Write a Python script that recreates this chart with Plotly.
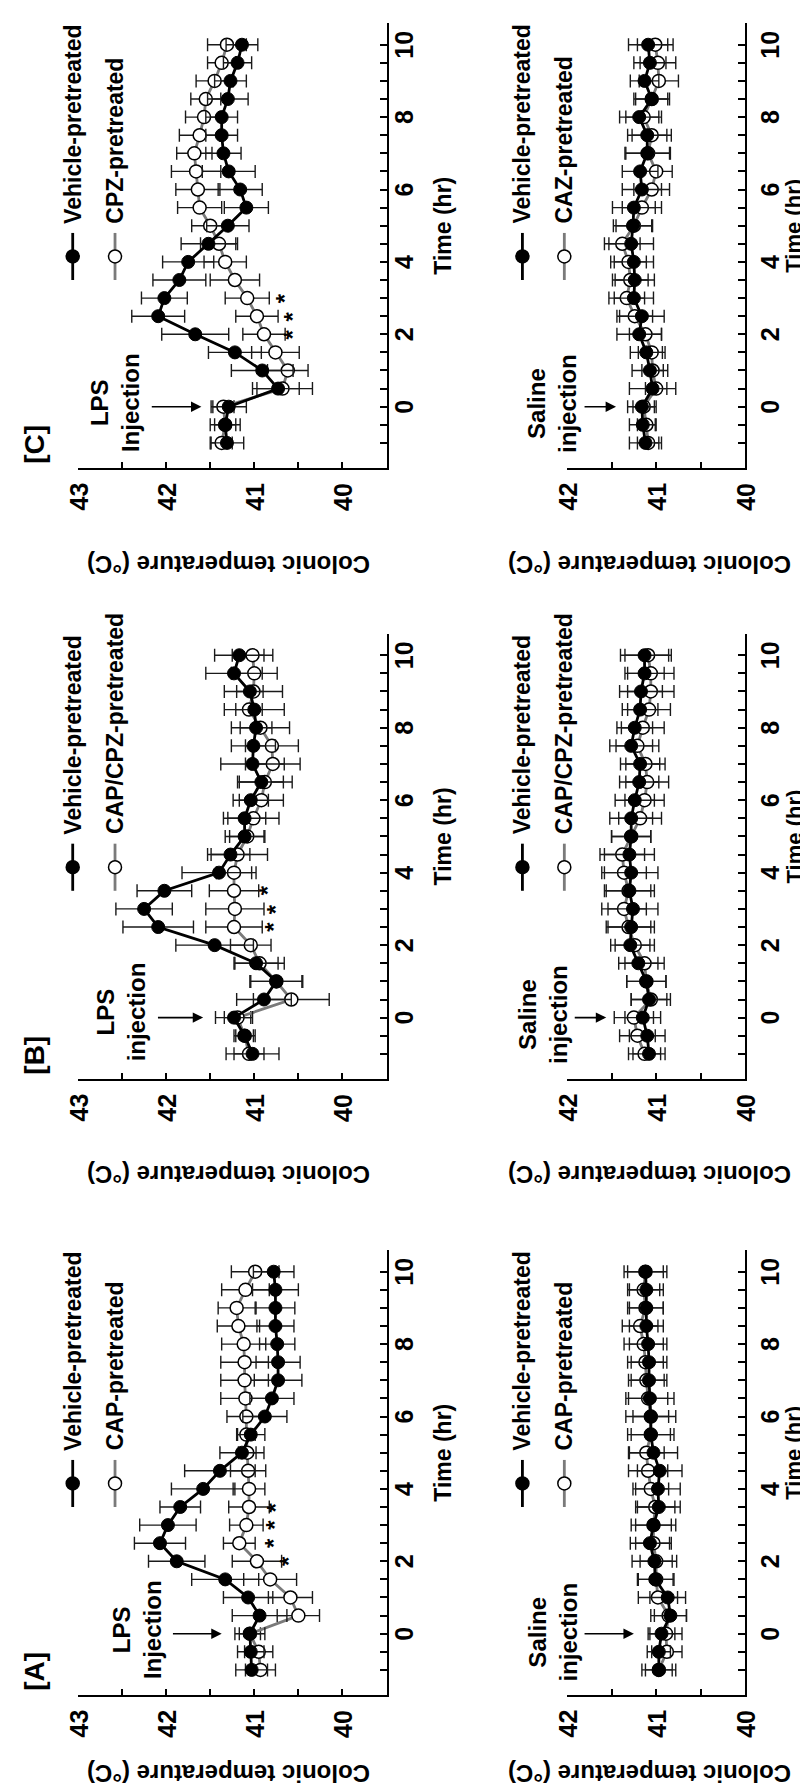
import plotly.graph_objects as go

W, H = 808, 1788

# ---------------- data ----------------
TIME_HR = [-1, -0.5, 0, 0.5, 1, 1.5, 2, 2.5, 3, 3.5, 4, 4.5, 5, 5.5, 6, 6.5, 7, 7.5, 8, 8.5, 9, 9.5, 10]

# Panel A
A_LPS_VEH = [41.03, 41.04, 41.05, 40.94, 41.07, 41.33, 41.88, 42.07, 41.98, 41.84, 41.58, 41.39, 41.14, 41.04, 40.88, 40.80, 40.73, 40.73, 40.74, 40.76, 40.76, 40.76, 40.78]
A_LPS_VEH_SEM = [0.18, 0.15, 0.17, 0.31, 0.28, 0.38, 0.32, 0.29, 0.32, 0.23, 0.36, 0.40, 0.25, 0.16, 0.25, 0.25, 0.27, 0.25, 0.20, 0.21, 0.22, 0.26, 0.23]
A_LPS_CAP = [40.93, 40.95, 41.05, 40.50, 40.59, 40.82, 40.97, 41.17, 41.09, 41.06, 41.06, 41.07, 41.08, 41.09, 41.09, 41.10, 41.11, 41.11, 41.12, 41.18, 41.20, 41.10, 40.99]
A_LPS_CAP_SEM = [0.17, 0.16, 0.12, 0.24, 0.25, 0.30, 0.28, 0.18, 0.19, 0.23, 0.18, 0.20, 0.10, 0.10, 0.22, 0.28, 0.27, 0.27, 0.25, 0.24, 0.21, 0.27, 0.27]
A_SAL_VEH = [40.97, 40.97, 40.94, 40.84, 40.87, 41.01, 41.02, 41.07, 41.03, 40.97, 40.98, 40.96, 41.03, 41.06, 41.06, 41.07, 41.08, 41.08, 41.09, 41.11, 41.11, 41.11, 41.12]
A_SAL_VEH_SEM = [0.19, 0.13, 0.15, 0.18, 0.20, 0.20, 0.25, 0.22, 0.25, 0.24, 0.25, 0.25, 0.27, 0.26, 0.28, 0.27, 0.20, 0.20, 0.21, 0.19, 0.19, 0.19, 0.24]
A_SAL_CAP = [40.97, 40.88, 40.89, 40.86, 40.98, 41.00, 41.00, 41.03, 41.03, 41.01, 41.06, 41.09, 41.11, 41.06, 41.06, 41.09, 41.11, 41.12, 41.14, 41.18, 41.12, 41.14, 41.12]
A_SAL_CAP_SEM = [0.15, 0.17, 0.18, 0.20, 0.22, 0.20, 0.18, 0.20, 0.20, 0.22, 0.20, 0.22, 0.20, 0.22, 0.20, 0.22, 0.20, 0.20, 0.22, 0.20, 0.20, 0.18, 0.20]

# Panel B
B_LPS_VEH = [41.02, 41.11, 41.23, 40.89, 40.75, 40.98, 41.45, 42.09, 42.25, 42.02, 41.40, 41.27, 41.11, 41.11, 41.04, 40.92, 41.02, 41.01, 40.98, 41.00, 41.05, 41.23, 41.17]
B_LPS_VEH_SEM = [0.30, 0.10, 0.21, 0.31, 0.29, 0.25, 0.44, 0.40, 0.32, 0.31, 0.42, 0.22, 0.22, 0.24, 0.20, 0.25, 0.36, 0.25, 0.18, 0.34, 0.15, 0.32, 0.28]
B_LPS_CAP = [41.06, 41.11, 41.19, 40.58, 40.75, 40.94, 41.04, 41.23, 41.22, 41.23, 41.23, 41.19, 41.08, 41.01, 40.92, 40.88, 40.79, 40.80, 40.93, 41.06, 41.01, 41.00, 41.02]
B_LPS_CAP_SEM = [0.17, 0.12, 0.15, 0.43, 0.30, 0.28, 0.23, 0.32, 0.33, 0.28, 0.20, 0.34, 0.20, 0.29, 0.25, 0.31, 0.31, 0.30, 0.33, 0.15, 0.33, 0.26, 0.23]
B_SAL_VEH = [41.08, 41.10, 41.15, 41.08, 41.11, 41.20, 41.29, 41.28, 41.26, 41.30, 41.28, 41.30, 41.28, 41.28, 41.24, 41.19, 41.18, 41.28, 41.24, 41.18, 41.17, 41.13, 41.13]
B_SAL_VEH_SEM = [0.18, 0.20, 0.20, 0.20, 0.22, 0.22, 0.22, 0.26, 0.28, 0.28, 0.30, 0.28, 0.22, 0.24, 0.22, 0.22, 0.22, 0.24, 0.20, 0.20, 0.24, 0.22, 0.27]
B_SAL_CAP = [41.13, 41.21, 41.25, 41.06, 41.11, 41.13, 41.24, 41.31, 41.36, 41.31, 41.36, 41.38, 41.28, 41.18, 41.13, 41.10, 41.12, 41.21, 41.15, 41.08, 41.06, 41.06, 41.09]
B_SAL_CAP_SEM = [0.18, 0.20, 0.22, 0.22, 0.22, 0.22, 0.22, 0.25, 0.25, 0.25, 0.25, 0.25, 0.22, 0.24, 0.22, 0.24, 0.22, 0.24, 0.24, 0.24, 0.26, 0.26, 0.26]

# Panel C
C_LPS_VEH = [41.31, 41.33, 41.29, 40.73, 40.91, 41.22, 41.67, 42.09, 42.02, 41.85, 41.75, 41.52, 41.30, 41.09, 41.16, 41.29, 41.35, 41.37, 41.37, 41.30, 41.27, 41.19, 41.14]
C_LPS_VEH_SEM = [0.19, 0.17, 0.20, 0.24, 0.35, 0.30, 0.38, 0.30, 0.26, 0.30, 0.29, 0.31, 0.24, 0.25, 0.25, 0.30, 0.20, 0.18, 0.18, 0.23, 0.18, 0.16, 0.18]
C_LPS_CAP = [41.37, 41.33, 41.35, 40.68, 40.62, 40.76, 40.89, 40.97, 41.08, 41.22, 41.33, 41.40, 41.50, 41.62, 41.64, 41.66, 41.68, 41.62, 41.57, 41.55, 41.45, 41.37, 41.31]
C_LPS_CAP_SEM = [0.12, 0.12, 0.12, 0.34, 0.23, 0.27, 0.24, 0.24, 0.25, 0.28, 0.24, 0.21, 0.21, 0.25, 0.25, 0.28, 0.20, 0.23, 0.21, 0.17, 0.21, 0.16, 0.22]
C_SAL_VEH = [41.12, 41.15, 41.16, 41.04, 41.07, 41.11, 41.19, 41.16, 41.25, 41.24, 41.25, 41.28, 41.26, 41.25, 41.16, 41.18, 41.10, 41.10, 41.19, 41.05, 41.13, 41.07, 41.09]
C_SAL_VEH_SEM = [0.18, 0.15, 0.16, 0.26, 0.20, 0.18, 0.25, 0.25, 0.22, 0.22, 0.22, 0.25, 0.22, 0.24, 0.22, 0.20, 0.25, 0.22, 0.22, 0.20, 0.16, 0.18, 0.22]
C_SAL_CAP = [41.09, 41.11, 41.14, 41.00, 41.04, 41.05, 41.12, 41.24, 41.33, 41.29, 41.31, 41.38, 41.25, 41.16, 41.05, 41.00, 41.09, 41.05, 41.14, 41.05, 40.97, 40.98, 41.01]
C_SAL_CAP_SEM = [0.12, 0.10, 0.12, 0.12, 0.12, 0.15, 0.18, 0.20, 0.20, 0.20, 0.20, 0.20, 0.20, 0.22, 0.20, 0.18, 0.25, 0.22, 0.20, 0.18, 0.22, 0.20, 0.20]

# significance markers (time, temperature where the asterisk sits)
A_STAR_T = [2, 2.5, 3, 3.5]
A_STAR_X = [40.61, 40.78, 40.78, 40.76]
B_STAR_T = [2.5, 3, 3.5]
B_STAR_X = [40.79, 40.75, 40.85]
C_STAR_T = [2, 2.5, 3]
C_STAR_X = [40.57, 40.57, 40.66]

TEMP_TICKS_LPS = [43, 42.5, 42, 41.5, 41, 40.5, 40]
TEMP_LABELS_LPS = [43, 42, 41, 40]
TEMP_TICKS_SAL = [42, 41.5, 41, 40.5, 40]
TEMP_LABELS_SAL = [42, 41, 40]
TIME_TICKS = [-1, -0.5, 0, 0.5, 1, 1.5, 2, 2.5, 3, 3.5, 4, 4.5, 5, 5.5, 6, 6.5, 7, 7.5, 8, 8.5, 9, 9.5, 10]
TIME_LABELS = [0, 2, 4, 6, 8, 10]

# ---------------- geometry ----------------
FONT = "Liberation Sans, Arial, Helvetica, sans-serif"
BLACK = "#000000"
GRAY = "#7a7a7a"

GEOM = {
    "lps": dict(xpx=(70, 378.5), trange=(43, 39.5), ticks=TEMP_TICKS_LPS, labels=TEMP_LABELS_LPS,
                title_x=221, time_title_x=435, time_label_x=396, time_title_size=23,
                leg_T=(43.06, 42.58)),
    "sal": dict(xpx=(559, 737.3), trange=(42, 40), ticks=TEMP_TICKS_SAL, labels=TEMP_LABELS_SAL,
                title_x=642, time_title_x=786, time_label_x=762, time_title_size=22,
                leg_T=(42.50, 42.03)),
}
T_RANGE = (-1.68, 10.6)
PANEL_Y = {"C": (15, 459.5), "B": (625.5, 1070.5), "A": (1242, 1686.5)}
TITLE_Y = {"C": 557, "B": 1167, "A": 1766}
TEMP_LABEL_DY = 29

PANELS = [
    dict(name="A", kind="lps", veh=A_LPS_VEH, veh_sem=A_LPS_VEH_SEM, trt=A_LPS_CAP, trt_sem=A_LPS_CAP_SEM,
         trt_name="CAP-pretreated", inj="LPS<br>Injection", inj_T=42.33, inj_t=0.1, arrow=(41.94, 41.37),
         stars=(A_STAR_T, A_STAR_X)),
    dict(name="A", kind="sal", veh=A_SAL_VEH, veh_sem=A_SAL_VEH_SEM, trt=A_SAL_CAP, trt_sem=A_SAL_CAP_SEM,
         trt_name="CAP-pretreated", inj="Saline<br>injection", inj_T=42.16, inj_t=0.05, arrow=(41.82, 41.25),
         stars=None),
    dict(name="B", kind="lps", veh=B_LPS_VEH, veh_sem=B_LPS_VEH_SEM, trt=B_LPS_CAP, trt_sem=B_LPS_CAP_SEM,
         trt_name="CAP/CPZ-pretreated", inj="LPS<br>injection", inj_T=42.51, inj_t=0.15, arrow=(42.11, 41.58),
         stars=(B_STAR_T, B_STAR_X)),
    dict(name="B", kind="sal", veh=B_SAL_VEH, veh_sem=B_SAL_VEH_SEM, trt=B_SAL_CAP, trt_sem=B_SAL_CAP_SEM,
         trt_name="CAP/CPZ-pretreated", inj="Saline<br>injection", inj_T=42.27, inj_t=0.1, arrow=(41.93, 41.56),
         stars=None),
    dict(name="C", kind="lps", veh=C_LPS_VEH, veh_sem=C_LPS_VEH_SEM, trt=C_LPS_CAP, trt_sem=C_LPS_CAP_SEM,
         trt_name="CPZ-pretreated", inj="LPS<br>Injection", inj_T=42.58, inj_t=0.1, arrow=(42.18, 41.60),
         stars=(C_STAR_T, C_STAR_X)),
    dict(name="C", kind="sal", veh=C_SAL_VEH, veh_sem=C_SAL_VEH_SEM, trt=C_SAL_CAP, trt_sem=C_SAL_CAP_SEM,
         trt_name="CAZ-pretreated", inj="Saline<br>injection", inj_T=42.17, inj_t=0.1, arrow=(41.82, 41.45),
         stars=None),
]


def to_paper(T, t, g, panel):
    x0, x1 = g["xpx"]
    Ta, Tb = g["trange"]
    px = x0 + (Ta - T) / (Ta - Tb) * (x1 - x0)
    ytop, ybot = PANEL_Y[panel]
    py = ybot - (t - T_RANGE[0]) / (T_RANGE[1] - T_RANGE[0]) * (ybot - ytop)
    return px / W, 1 - py / H, px, py


def bold(size):
    return dict(family=FONT, size=size, weight="bold", color=BLACK)


fig = go.Figure()
layout = dict(width=W, height=H, margin=dict(l=0, r=0, t=0, b=0),
              paper_bgcolor="white", plot_bgcolor="white", showlegend=False,
              font=dict(family=FONT, color=BLACK))
annotations = []
shapes = []

err_style = dict(type="data", symmetric=True, color="#1a1a1a", thickness=1.4, width=6.5)

for k, p in enumerate(PANELS, start=1):
    g = GEOM[p["kind"]]
    xa = "x" if k == 1 else f"x{k}"
    ya = "y" if k == 1 else f"y{k}"
    xkey = "xaxis" if k == 1 else f"xaxis{k}"
    ykey = "yaxis" if k == 1 else f"yaxis{k}"
    ytop, ybot = PANEL_Y[p["name"]]

    # treatment (open circles) first, vehicle on top
    fig.add_trace(go.Scatter(
        x=p["trt"], y=TIME_HR, xaxis=xa, yaxis=ya, mode="lines+markers",
        line=dict(color=GRAY, width=2.8),
        marker=dict(symbol="circle", size=13, color="white", line=dict(color=BLACK, width=1.5)),
        error_x=dict(array=p["trt_sem"], **err_style), cliponaxis=False))
    fig.add_trace(go.Scatter(
        x=p["veh"], y=TIME_HR, xaxis=xa, yaxis=ya, mode="lines+markers",
        line=dict(color=BLACK, width=2.8),
        marker=dict(symbol="circle", size=13, color=BLACK, line=dict(color=BLACK, width=1)),
        error_x=dict(array=p["veh_sem"], **err_style), cliponaxis=False))

    layout[xkey] = dict(
        domain=[g["xpx"][0] / W, g["xpx"][1] / W], range=list(g["trange"]), anchor=ya,
        showline=True, linecolor=BLACK, linewidth=2, showgrid=False, zeroline=False,
        ticks="inside", ticklen=6, tickwidth=2, tickcolor=BLACK,
        tickmode="array", tickvals=g["ticks"], showticklabels=False)
    layout[ykey] = dict(
        domain=[1 - ybot / H, 1 - ytop / H], range=list(T_RANGE), anchor=xa, side="right",
        showline=True, linecolor=BLACK, linewidth=2, showgrid=False, zeroline=False,
        ticks="inside", ticklen=7, tickwidth=2, tickcolor=BLACK,
        tickmode="array", tickvals=TIME_TICKS, showticklabels=False)

    # tick labels (rotated like the reference)
    for v in g["labels"]:
        annotations.append(dict(
            text=str(v), xref=xa, yref="paper", x=v, y=1 - (ybot + TEMP_LABEL_DY) / H,
            showarrow=False, textangle=-90, xanchor="center", yanchor="middle", font=bold(25)))
    for v in TIME_LABELS:
        annotations.append(dict(
            text=str(v), xref="paper", yref=ya, x=g["time_label_x"] / W, y=v,
            showarrow=False, textangle=-90, xanchor="center", yanchor="middle", font=bold(25)))

    # axis titles
    annotations.append(dict(
        text="Colonic temperature (°C)", xref="paper", yref="paper",
        x=g["title_x"] / W, y=1 - TITLE_Y[p["name"]] / H, showarrow=False, textangle=180,
        xanchor="center", yanchor="middle", font=bold(24)))
    annotations.append(dict(
        text="Time (hr)", xref="paper", yref=ya,
        x=g["time_title_x"] / W, y=5, showarrow=False, textangle=-90,
        xanchor="center", yanchor="middle", font=bold(g["time_title_size"])))

    # panel letter
    if p["kind"] == "lps":
        annotations.append(dict(
            text=f"[{p['name']}]", xref="paper", yref=ya, x=27 / W, y=-1.05,
            showarrow=False, textangle=-90, xanchor="center", yanchor="middle", font=bold(28)))

    # injection label + arrow
    ix, iy, _, _ = to_paper(p["inj_T"], p["inj_t"], g, p["name"])
    annotations.append(dict(
        text=p["inj"], xref="paper", yref="paper", x=ix, y=iy, showarrow=False,
        textangle=-90, xanchor="center", yanchor="middle", align="center", font=bold(24)))
    annotations.append(dict(
        text="", xref=xa, yref=ya, x=p["arrow"][1], y=0, ax=p["arrow"][0], ay=0,
        axref=xa, ayref=ya, showarrow=True, arrowhead=2, arrowsize=1.3, arrowwidth=1.6,
        arrowcolor=BLACK, standoff=0, startstandoff=0))

    # asterisks
    if p["stars"]:
        for st, sx in zip(*p["stars"]):
            annotations.append(dict(
                text="*", xref=xa, yref=ya, x=sx, y=st, showarrow=False, textangle=-90,
                xanchor="center", yanchor="middle", font=bold(24)))

    # legend (line - marker - line, then text)
    for T_leg, label, col, fill in [(g["leg_T"][0], "Vehicle-pretreated", BLACK, BLACK),
                                    (g["leg_T"][1], p["trt_name"], GRAY, "white")]:
        xp, y_lo, px, py_lo = to_paper(T_leg, 3.5, g, p["name"])
        _, y_hi, _, py_hi = to_paper(T_leg, 4.8, g, p["name"])
        _, _, _, py_m = to_paper(T_leg, 4.15, g, p["name"])
        shapes.append(dict(type="line", xref="paper", yref="paper", x0=xp, x1=xp, y0=y_lo, y1=y_hi,
                           line=dict(color=col, width=2.8), layer="above"))
        r = 6.5
        shapes.append(dict(type="circle", xref="paper", yref="paper",
                           x0=(px - r) / W, x1=(px + r) / W,
                           y0=1 - (py_m + r) / H, y1=1 - (py_m - r) / H,
                           fillcolor=fill, line=dict(color=BLACK, width=1.5), layer="above"))
        annotations.append(dict(
            text=label, xref="paper", yref=ya, x=xp, y=5.0, showarrow=False,
            textangle=-90, xanchor="center", yanchor="bottom", font=bold(23)))

layout["annotations"] = annotations
layout["shapes"] = shapes
fig.update_layout(**layout)
fig.write_html("out.html")
